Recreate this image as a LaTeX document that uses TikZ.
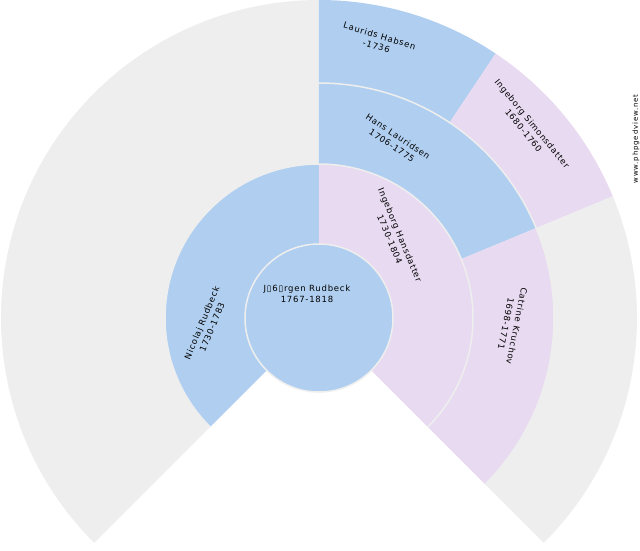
\documentclass[tikz,border=0pt]{standalone}
\usepackage{xcolor}
\usepackage{fontspec}
\usepackage{tikz}
\setmainfont{DejaVu Sans}
\newfontfamily\namefont{DejaVu Sans}[LetterSpace=9]
\newfontfamily\sitefont{DejaVu Sans}[LetterSpace=12]

\definecolor{maleblue}{RGB}{176,207,240}
\definecolor{femalepink}{RGB}{232,218,241}
\definecolor{nobodygray}{RGB}{238,238,238}

\newcommand{\sector}[5]{\fill[#1] (#4:#2) arc[start angle=#4, end angle=#5, radius=#2] -- (#5:#3) arc[start angle=#5, end angle=#4, radius=#3] -- cycle;}

\begin{document}
\begin{tikzpicture}[x=1pt, y=1pt,
    male/.style={fill=maleblue},
    female/.style={fill=femalepink},
    nobody/.style={fill=nobodygray},
    ringline/.style={draw=nobodygray, line width=1.5pt},
    person/.style={font=\namefont\fontsize{8.5}{11}\selectfont, align=center, inner sep=0pt}]
    \useasboundingbox (-319,-232) rectangle (321,318);

    % great-grandparents
    \sector{nobody}{154}{318}{90}{225}
    \sector{male}{235}{318}{56.25}{90}
    \sector{female}{235}{318}{22.5}{56.25}
    \sector{nobody}{235}{318}{-45}{22.5}
    % grandparents
    \sector{male}{154}{235}{22.5}{90}
    \sector{female}{154}{235}{-45}{22.5}
    % parents
    \sector{male}{74}{154}{90}{225}
    \sector{female}{74}{154}{-45}{90}
    \fill[male] (0,0) circle[radius=74];

    \draw[ringline] (-45:235) arc[start angle=-45, end angle=225, radius=235];
    \draw[ringline] (-45:154) arc[start angle=-45, end angle=225, radius=154];
    \draw[ringline] (0,0) circle[radius=74];

    \node (jorgen) [person] at (-12,24) {J▯6▯rgen Rudbeck\\1767-1818};
    \node (nicolaj) [person, rotate=67.5] at (-112,-7) {Nicolaj Rudbeck\\1730-1783};
    \node (ingeborg) [person, rotate=-67.5] at (76,81) {Ingeborg Hansdatter\\1730-1804};
    \node (hans) [person, rotate=-33.75] at (76,177) {Hans Lauridsen\\1706-1775};
    \node (catrine) [person, rotate=-101.25] at (192.5,-7) {Catrine Kruchov\\1698-1771};
    \node (laurids) [person, rotate=-16.875] at (59,277) {Laurids Habsen\\-1736};
    \node (simonsdatter) [person, rotate=-50.625] at (209,191) {Ingeborg Simonsdatter\\1680-1760};

    \node (site) [font=\sitefont\fontsize{7}{8}\selectfont, inner sep=0pt, rotate=90] at (317,179) {www.phpgedview.net};
\end{tikzpicture}
\end{document}
